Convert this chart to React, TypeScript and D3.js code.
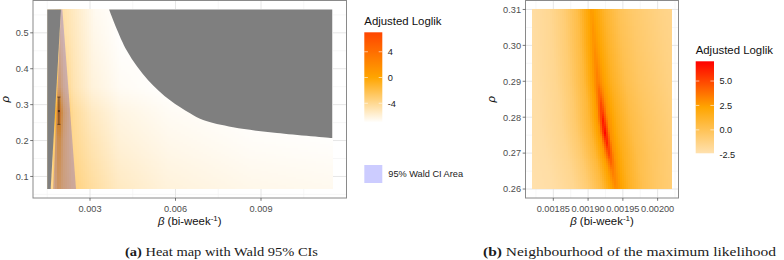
import React from "react";
import * as d3 from "d3";

// ---------------- Panel (a): heat map of the adjusted log-likelihood ----------------
const aBetaExtent = [0.0015, 0.0115];
const aRhoExtent = [0.065, 0.565];
const aBetaTicks = [0.003, 0.006, 0.009];
const aBetaMinor = [0.0015, 0.0045, 0.0075, 0.0105];
const aRhoTicks = [0.1, 0.2, 0.3, 0.4, 0.5];
const aRhoMinor = [0.05, 0.15, 0.25, 0.35, 0.45, 0.55];

// ridge of the surface (beta of the row maximum) for a few rho levels
const aRhoKnots = [0.065, 0.2, 0.28, 0.35, 0.5, 0.565];
const aRidgeBeta = [0.0019, 0.00192, 0.00192, 0.00193, 0.00196, 0.00199];
// read-off log-likelihood values at beta / ridge ratios, one row per rho knot
const aRatioCols = [0.85, 0.95, 1, 1.08, 1.25, 1.6, 2.1, 3, 4.5, 6.5];
const aLoglikRho065 = [-4.5, -2.5, -1.5, -2.5, -3.4, -4.3, -5.3, -6.0, -6.4, -6.6];
const aLoglikRho200 = [-4.5, -2, -0.5, -2.5, -3.9, -4.9, -5.9, -6.45, -6.8, -6.95];
const aLoglikRho280 = [-4, -1, 2, -2, -4.1, -5.3, -6.2, -6.7, -7, -7];
const aLoglikRho350 = [-5, -3, -2, -3.5, -4.8, -6.0, -6.7, -7, -7, -7];
const aLoglikRho500 = [-5.5, -4.5, -4, -4.6, -5.2, -6.4, -7, -7, -7, -7];
const aLoglikRho565 = [-5.8, -5, -4.5, -4.8, -5.4, -6.6, -7, -7, -7, -7];

// NA (grey) regions
const aNaLeftRho = [0.065, 0.565];
const aNaLeftBeta = [0.00162, 0.00198];
const aNaRightBeta = [0.00367, 0.00429, 0.00504, 0.00581, 0.00651, 0.00697, 0.00802, 0.00956, 0.0115];
const aNaRightRho = [0.565, 0.451, 0.368, 0.312, 0.276, 0.257, 0.237, 0.221, 0.207];

// 95% Wald CI area polygon
const aCiBeta = [0.00198, 0.00203, 0.00251, 0.00171];
const aCiRho = [0.565, 0.565, 0.065, 0.065];

// MLE with CI for rho
const aMleBeta = 0.00191;
const aMleRho = 0.282;
const aMleRhoCI = [0.245, 0.321];

const aColourStops = [-7, 0, 7.02];
const aColours = ["#ffffff", "#ffa500", "#ff4500"];
const aLegendTicks = [4, 0, -4];

// ---------------- Panel (b): neighbourhood of the maximum ----------------
const bBetaExtent = [0.00182, 0.00202];
const bRhoExtent = [0.26, 0.31];
const bBetaTicks = [0.00185, 0.0019, 0.00195, 0.002];
const bBetaMinor = [0.001825, 0.001875, 0.001925, 0.001975, 0.002025];
const bRhoTicks = [0.26, 0.27, 0.28, 0.29, 0.3, 0.31];
const bRhoMinor = [0.265, 0.275, 0.285, 0.295, 0.305];

// ridge line, broad ridge height and extra height of the sharp core near the maximum
const bRidgeRho = [0.26, 0.265, 0.27, 0.276, 0.28, 0.285, 0.29, 0.3, 0.31];
const bRidgeBeta = [0.00194, 0.001935, 0.00193, 0.001924, 0.001921, 0.001918, 0.001914, 0.001909, 0.001905];
const bBroadPeak = [3.0, 3.2, 3.5, 3.6, 3.6, 3.4, 3.2, 2.9, 2.6];
const bCorePeak = [0, 0.3, 1.6, 3.4, 2.6, 1.3, 0.3, 0, 0];
const bOffset = [-0.00013, -0.00009, -0.00006, -0.00004, -0.00002, -0.00001, 0, 0.00001, 0.00002, 0.00004, 0.00006, 0.0001, 0.00013];
const bBroadShape = [0, 0.05, 0.15, 0.3, 0.55, 0.8, 1, 0.85, 0.68, 0.47, 0.36, 0.22, 0.15];
const bCoreOffset = [-0.000007, 0, 0.000007];
const bCoreShape = [0, 1, 0];
const bBase = -2.4;

const bColourStops = [-2.4, 2.3, 7.02];
const bColours = ["#ffe1af", "#ffa500", "#ff0000"];
const bLegendTicks = [5, 2.5, 0, -2.5];

const SANS = "'Liberation Sans', Arial, Helvetica, sans-serif";
const SERIF = "'Liberation Serif', 'Times New Roman', serif";
const TICK_COL = "#4d4d4d";

function expand(e: number[]) {
  const p = (e[1] - e[0]) * 0.05;
  return [e[0] - p, e[1] + p];
}

// scales
const ax = d3.scaleLinear().domain(expand(aBetaExtent)).range([33, 346.5]);
const ay = d3.scaleLinear().domain(expand(aRhoExtent)).range([198, 0.5]);
const bx = d3.scaleLinear().domain(expand(bBetaExtent)).range([525.5, 678.5]);
const by = d3.scaleLinear().domain(expand(bRhoExtent)).range([198, 0.5]);

const aColor = d3.scaleLinear<string>().domain(aColourStops).range(aColours).interpolate(d3.interpolateRgb).clamp(true);
const bColor = d3.scaleLinear<string>().domain(bColourStops).range(bColours).interpolate(d3.interpolateRgb).clamp(true);

const aRidge = d3.scaleLinear().domain(aRhoKnots).range(aRidgeBeta).clamp(true);
const aRows = [aLoglikRho065, aLoglikRho200, aLoglikRho280, aLoglikRho350, aLoglikRho500, aLoglikRho565].map((row) =>
  d3.scaleLinear().domain(aRatioCols).range(row).clamp(true)
);
function aValue(beta: number, rho: number) {
  const r = beta / aRidge(rho);
  const vals = aRows.map((f) => f(r));
  return d3.scaleLinear().domain(aRhoKnots).range(vals).clamp(true)(rho);
}

const bRidge = d3.scaleLinear().domain(bRidgeRho).range(bRidgeBeta).clamp(true);
const bBroad = d3.scaleLinear().domain(bRidgeRho).range(bBroadPeak).clamp(true);
const bCore = d3.scaleLinear().domain(bRidgeRho).range(bCorePeak).clamp(true);
const bProfile = d3.scaleLinear().domain(bOffset).range(bBroadShape).clamp(true);
const bCoreProfile = d3.scaleLinear().domain(bCoreOffset).range(bCoreShape).clamp(true);
function bValue(beta: number, rho: number) {
  const off = beta - bRidge(rho);
  return bBase + (bBroad(rho) - bBase) * bProfile(off) + bCore(rho) * bCoreProfile(off);
}

function cells(
  key: string,
  bx0: number[],
  ry0: number[],
  nx: number,
  ny: number,
  xs: any,
  ys: any,
  val: (b: number, r: number) => number,
  col: any
) {
  const out: any[] = [];
  for (let i = 0; i < nx; i++) {
    const b0 = bx0[0] + ((bx0[1] - bx0[0]) * i) / nx;
    const b1 = bx0[0] + ((bx0[1] - bx0[0]) * (i + 1)) / nx;
    for (let j = 0; j < ny; j++) {
      const r0 = ry0[0] + ((ry0[1] - ry0[0]) * j) / ny;
      const r1 = ry0[0] + ((ry0[1] - ry0[0]) * (j + 1)) / ny;
      const v = val((b0 + b1) / 2, (r0 + r1) / 2);
      out.push(
        <rect
          key={`${key}${i}_${j}`}
          x={xs(b0)}
          y={ys(r1)}
          width={xs(b1) - xs(b0) + 0.4}
          height={ys(r0) - ys(r1) + 0.4}
          fill={col(v)}
        />
      );
    }
  }
  return out;
}

function PanelFrame(props: any) {
  const { xs, ys, xTicks, xMinor, yTicks, yMinor, xFmt, yFmt, children, yTitleX } = props;
  const [x0, x1] = xs.range();
  const [y0, y1] = ys.range();
  return (
    <g>
      <rect x={x0} y={y1} width={x1 - x0} height={y0 - y1} fill="#ffffff" />
      {xMinor.map((t: number) => (
        <line key={`xm${t}`} x1={xs(t)} x2={xs(t)} y1={y1} y2={y0} stroke="#f2f2f2" strokeWidth={0.6} />
      ))}
      {yMinor.map((t: number) => (
        <line key={`ym${t}`} x1={x0} x2={x1} y1={ys(t)} y2={ys(t)} stroke="#f2f2f2" strokeWidth={0.6} />
      ))}
      {xTicks.map((t: number) => (
        <line key={`xg${t}`} x1={xs(t)} x2={xs(t)} y1={y1} y2={y0} stroke="#e3e3e3" strokeWidth={0.9} />
      ))}
      {yTicks.map((t: number) => (
        <line key={`yg${t}`} x1={x0} x2={x1} y1={ys(t)} y2={ys(t)} stroke="#e3e3e3" strokeWidth={0.9} />
      ))}
      {children}
      <rect x={x0} y={y1} width={x1 - x0} height={y0 - y1} fill="none" stroke="#8a8a8a" strokeWidth={1} />
      {xTicks.map((t: number) => (
        <g key={`xt${t}`}>
          <line x1={xs(t)} x2={xs(t)} y1={y0} y2={y0 + 2.8} stroke="#555" strokeWidth={0.8} />
          <text x={xs(t)} y={212} textAnchor="middle" fontFamily={SANS} fontSize={9.2} fill={TICK_COL}>
            {xFmt(t)}
          </text>
        </g>
      ))}
      {yTicks.map((t: number) => (
        <g key={`yt${t}`}>
          <line x1={x0 - 2.8} x2={x0} y1={ys(t)} y2={ys(t)} stroke="#555" strokeWidth={0.8} />
          <text x={x0 - 4.5} y={ys(t) + 3.3} textAnchor="end" fontFamily={SANS} fontSize={9.2} fill={TICK_COL}>
            {yFmt(t)}
          </text>
        </g>
      ))}
      <text x={(x0 + x1) / 2} y={224.5} textAnchor="middle" fontFamily={SANS} fontSize={11.4} fill="#111">
        <tspan fontStyle="italic">β</tspan>
        <tspan> (bi-week</tspan>
        <tspan fontSize={8} dy={-4}>-1</tspan>
        <tspan dy={4}>)</tspan>
      </text>
      <text
        transform={`translate(${yTitleX},${(y0 + y1) / 2}) rotate(-90)`}
        textAnchor="middle"
        fontFamily={SANS}
        fontStyle="italic"
        fontSize={11.4}
        fill="#111"
      >
        ρ
      </text>
    </g>
  );
}

function ColourBar(props: any) {
  const { id, x, yTop, yBot, width, domain, color, ticks, fmt, title, titleY } = props;
  const vs = d3.scaleLinear().domain(domain).range([yBot, yTop]);
  const stops = d3.range(0, 21).map((i) => {
    const v = domain[1] - ((domain[1] - domain[0]) * i) / 20;
    return { off: i / 20, c: color(v) };
  });
  return (
    <g>
      <defs>
        <linearGradient id={id} x1="0" y1="0" x2="0" y2="1">
          {stops.map((s) => (
            <stop key={s.off} offset={s.off} stopColor={s.c} />
          ))}
        </linearGradient>
      </defs>
      <text x={x} y={titleY} fontFamily={SANS} fontSize={11.4} fill="#111">
        {title}
      </text>
      <rect x={x} y={yTop} width={width} height={yBot - yTop} fill={`url(#${id})`} />
      {ticks.map((t: number) => (
        <g key={t}>
          <line x1={x} x2={x + 3.6} y1={vs(t)} y2={vs(t)} stroke="#fff" strokeWidth={0.6} />
          <line x1={x + width - 3.6} x2={x + width} y1={vs(t)} y2={vs(t)} stroke="#fff" strokeWidth={0.6} />
          <text x={x + width + 5.4} y={vs(t) + 3.3} fontFamily={SANS} fontSize={9.2} fill="#1a1a1a">
            {fmt(t)}
          </text>
        </g>
      ))}
    </g>
  );
}

export default function App() {
  const aCells = React.useMemo(() => cells("a", aBetaExtent, aRhoExtent, 143, 90, ax, ay, aValue, aColor), []);
  const bCells = React.useMemo(() => cells("b", bBetaExtent, bRhoExtent, 70, 90, bx, by, bValue, bColor), []);

  const polyLine = d3
    .line<[number, number]>()
    .x((d) => ax(d[0]))
    .y((d) => ay(d[1]));

  const naLeftPts: [number, number][] = [
    [aBetaExtent[0], aNaLeftRho[0]],
    [aNaLeftBeta[0], aNaLeftRho[0]],
    [aNaLeftBeta[1], aNaLeftRho[1]],
    [aBetaExtent[0], aNaLeftRho[1]],
  ];
  const naRightCurve = d3
    .line<[number, number]>()
    .x((d) => ax(d[0]))
    .y((d) => ay(d[1]))
    .curve(d3.curveCatmullRom)(aNaRightBeta.map((b, i) => [b, aNaRightRho[i]] as [number, number]));
  const naRightPath = `${naRightCurve}L${ax(aBetaExtent[1])},${ay(aRhoExtent[1])}Z`;
  const ciPts: [number, number][] = aCiBeta.map((b, i) => [b, aCiRho[i]]);

  const ex = ax(aMleBeta);
  const capHalf = 1.5;

  return (
    <svg
      width={784}
      height={260}
      viewBox="0 0 784 260"
      style={{ position: "absolute", left: 0, top: 0, background: "#fff" }}
    >
      <rect x={0} y={0} width={784} height={260} fill="#fff" />

      {/* Panel (a) */}
      <PanelFrame
        xs={ax}
        ys={ay}
        xTicks={aBetaTicks}
        xMinor={aBetaMinor}
        yTicks={aRhoTicks}
        yMinor={aRhoMinor}
        xFmt={d3.format(".3f")}
        yFmt={d3.format(".1f")}
        yTitleX={8.5}
      >
        <g shapeRendering="crispEdges">{aCells}</g>
        <path d={`${polyLine(naLeftPts)}Z`} fill="#7f7f7f" />
        <path d={naRightPath} fill="#7f7f7f" />
        <path d={`${polyLine(ciPts)}Z`} fill="#0000ff" fillOpacity={0.2} />
        <line x1={ex} x2={ex} y1={ay(aMleRhoCI[0])} y2={ay(aMleRhoCI[1])} stroke="#3b2518" strokeWidth={0.7} />
        <line x1={ex - capHalf} x2={ex + capHalf} y1={ay(aMleRhoCI[0])} y2={ay(aMleRhoCI[0])} stroke="#3b2518" strokeWidth={0.7} />
        <line x1={ex - capHalf} x2={ex + capHalf} y1={ay(aMleRhoCI[1])} y2={ay(aMleRhoCI[1])} stroke="#3b2518" strokeWidth={0.7} />
        <circle cx={ex} cy={ay(aMleRho)} r={1.1} fill="#3b2518" />
      </PanelFrame>

      <ColourBar
        id="gradA"
        x={364.3}
        yTop={32.3}
        yBot={122.6}
        width={18}
        domain={[aColourStops[0], aColourStops[2]]}
        color={aColor}
        ticks={aLegendTicks}
        fmt={(t: number) => (t < 0 ? `-${Math.abs(t)}` : `${t}`)}
        title="Adjusted Loglik"
        titleY={24.7}
      />
      <rect x={364.3} y={165} width={18} height={18} fill="#0000ff" fillOpacity={0.2} />
      <text x={388.3} y={177.3} fontFamily={SANS} fontSize={9.2} fill="#1a1a1a">
        95% Wald CI Area
      </text>

      {/* Panel (b) */}
      <PanelFrame
        xs={bx}
        ys={by}
        xTicks={bBetaTicks}
        xMinor={bBetaMinor}
        yTicks={bRhoTicks}
        yMinor={bRhoMinor}
        xFmt={d3.format(".5f")}
        yFmt={d3.format(".2f")}
        yTitleX={494.5}
      >
        <g shapeRendering="crispEdges">{bCells}</g>
      </PanelFrame>

      <ColourBar
        id="gradB"
        x={695.7}
        yTop={61.3}
        yBot={153.3}
        width={18.3}
        domain={[bColourStops[0], bColourStops[2]]}
        color={bColor}
        ticks={bLegendTicks}
        fmt={(t: number) => (t < 0 ? `-${Math.abs(t).toFixed(1)}` : t.toFixed(1))}
        title="Adjusted Loglik"
        titleY={54.3}
      />

      {/* Captions */}
      <text x={125} y={255.5} fontFamily={SERIF} fontSize={13.5} fill="#1a1a1a" textLength={193} lengthAdjust="spacingAndGlyphs">
        <tspan fontWeight="bold">(a)</tspan>
        <tspan> Heat map with Wald 95% CIs</tspan>
      </text>
      <text x={483} y={255.5} fontFamily={SERIF} fontSize={13.5} fill="#1a1a1a" textLength={293} lengthAdjust="spacingAndGlyphs">
        <tspan fontWeight="bold">(b)</tspan>
        <tspan> Neighbourhood of the maximum likelihood</tspan>
      </text>
    </svg>
  );
}
